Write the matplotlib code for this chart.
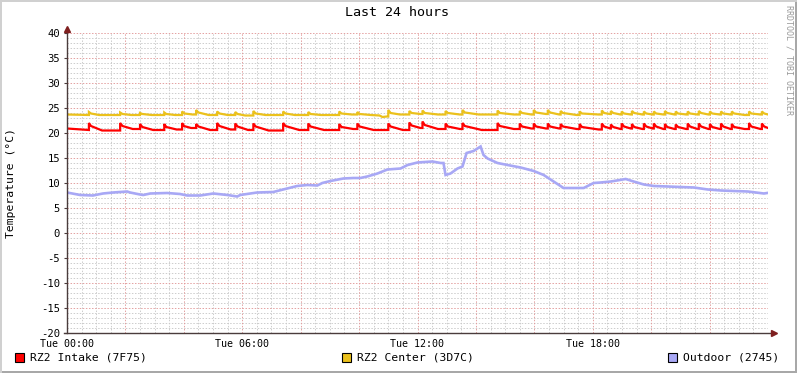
#!/usr/bin/env python3
"""Redraw the 'Last 24 hours' RRDtool temperature graph."""

import matplotlib
matplotlib.use("Agg")
import matplotlib.pyplot as plt  # type: ignore
from matplotlib.patches import Rectangle  # type: ignore

TITLE = "Last 24 hours"
Y_LABEL = "Temperature (°C)"
WATERMARK = "RRDTOOL / TOBI OETIKER"
X_TICKS = [0, 6, 12, 18]
X_TICK_LABELS = ["Tue 00:00", "Tue 06:00", "Tue 12:00", "Tue 18:00"]
Y_TICKS = list(range(-20, 41, 5))
NAMES = ["RZ2 Intake (7F75)", "RZ2 Center (3D7C)", "Outdoor (2745)"]
COLORS = ["#FF0000", "#EBC11C", "#A8A8F5"]

# (hour, °C)
intake_points = [
    (0.00, 20.9), (0.70, 20.6), (0.75, 20.6), (0.75, 22.0), (0.82, 21.4), (1.20, 20.5),
    (1.82, 20.5), (1.82, 22.0), (1.90, 21.4), (2.25, 20.8), (2.50, 20.8), (2.50, 21.8),
    (2.58, 21.2), (2.95, 20.6), (3.33, 20.6), (3.33, 21.8), (3.40, 21.2), (3.75, 20.7),
    (3.94, 20.7), (3.94, 22.0), (4.00, 21.4), (4.25, 21.0), (4.42, 21.0), (4.42, 21.8),
    (4.50, 21.3), (4.90, 20.6), (5.14, 20.6), (5.14, 22.0), (5.22, 21.4), (5.60, 20.7),
    (5.76, 20.7), (5.76, 21.9), (5.84, 21.3), (6.20, 20.6), (6.38, 20.6), (6.38, 21.9),
    (6.46, 21.3), (6.90, 20.5), (7.40, 20.5), (7.40, 22.0), (7.48, 21.4), (7.95, 20.6),
    (8.26, 20.6), (8.26, 21.9), (8.34, 21.3), (8.80, 20.6), (9.32, 20.6), (9.32, 21.8),
    (9.40, 21.2), (9.80, 20.8), (9.94, 20.8), (9.94, 21.9), (10.02, 21.3), (10.50, 20.6),
    (11.00, 20.6), (11.00, 21.9), (11.08, 21.3), (11.50, 20.6), (11.72, 20.6), (11.72, 22.1),
    (11.80, 21.5), (12.10, 21.0), (12.17, 21.0), (12.17, 22.3), (12.25, 21.6), (12.70, 20.8),
    (12.96, 20.8), (12.96, 21.9), (13.04, 21.3), (13.45, 20.8), (13.54, 20.8), (13.54, 22.0),
    (13.62, 21.4), (14.20, 20.6), (14.74, 20.6), (14.74, 22.0), (14.82, 21.4), (15.30, 20.8),
    (15.50, 20.8), (15.50, 21.9), (15.58, 21.3), (15.90, 20.9), (15.98, 20.9), (15.98, 21.9),
    (16.06, 21.3), (16.40, 20.9), (16.46, 20.9), (16.46, 21.9), (16.54, 21.3), (16.85, 20.9),
    (16.90, 20.9), (16.90, 21.8), (16.98, 21.3), (17.45, 20.8), (17.55, 20.8), (17.55, 21.8),
    (17.63, 21.2), (18.20, 20.7), (18.31, 20.7), (18.31, 21.9), (18.39, 21.3), (18.60, 20.9),
    (18.62, 20.9), (18.62, 21.7), (18.70, 21.2), (18.95, 20.8), (18.99, 20.8), (18.99, 21.9),
    (19.07, 21.3), (19.30, 20.9), (19.34, 20.9), (19.34, 21.8), (19.42, 21.2), (19.70, 20.8),
    (19.75, 20.8), (19.75, 21.9), (19.83, 21.3), (20.05, 20.9), (20.09, 20.9), (20.09, 21.9),
    (20.17, 21.3), (20.42, 20.8), (20.47, 20.8), (20.47, 21.8), (20.55, 21.2), (20.80, 20.8),
    (20.84, 20.8), (20.84, 21.7), (20.92, 21.2), (21.20, 20.8), (21.25, 20.8), (21.25, 21.9),
    (21.33, 21.3), (21.58, 20.8), (21.63, 20.8), (21.63, 21.9), (21.71, 21.3), (21.96, 20.8),
    (22.01, 20.8), (22.01, 21.8), (22.09, 21.2), (22.35, 20.8), (22.39, 20.8), (22.39, 21.9),
    (22.47, 21.3), (22.72, 20.8), (22.76, 20.8), (22.76, 21.8), (22.84, 21.2), (23.20, 20.8),
    (23.35, 20.8), (23.35, 22.0), (23.43, 21.3), (23.74, 20.8), (23.79, 20.8), (23.79, 21.9),
    (23.87, 21.3), (24.00, 21.0),
]

center_points = [
    (0.00, 23.7), (0.70, 23.6), (0.75, 23.6), (0.75, 24.2), (0.82, 23.9), (1.10, 23.6),
    (1.82, 23.6), (1.82, 24.1), (1.90, 23.8), (2.20, 23.6), (2.50, 23.6), (2.50, 24.0),
    (2.58, 23.8), (2.90, 23.6), (3.33, 23.6), (3.33, 24.1), (3.40, 23.8), (3.70, 23.6),
    (3.94, 23.6), (3.94, 24.3), (4.02, 23.9), (4.30, 23.7), (4.42, 23.7), (4.42, 24.6),
    (4.50, 24.1), (4.85, 23.6), (5.14, 23.6), (5.14, 24.3), (5.22, 23.9), (5.50, 23.6),
    (5.76, 23.6), (5.76, 24.2), (5.84, 23.8), (6.10, 23.5), (6.38, 23.5), (6.38, 24.4),
    (6.46, 23.9), (6.80, 23.6), (7.40, 23.6), (7.40, 24.3), (7.48, 23.9), (7.80, 23.6),
    (8.26, 23.6), (8.26, 24.2), (8.34, 23.8), (8.70, 23.6), (9.32, 23.6), (9.32, 24.3),
    (9.40, 23.9), (9.75, 23.7), (9.94, 23.7), (9.94, 24.2), (10.02, 23.8), (10.40, 23.6),
    (10.70, 23.5), (10.80, 23.2), (10.95, 23.3), (11.00, 23.3), (11.00, 24.6), (11.08, 24.0),
    (11.40, 23.7), (11.72, 23.7), (11.72, 24.4), (11.80, 24.0), (12.10, 23.8), (12.17, 23.8),
    (12.17, 24.5), (12.25, 24.0), (12.70, 23.7), (12.96, 23.7), (12.96, 24.4), (13.04, 24.0),
    (13.45, 23.7), (13.54, 23.7), (13.54, 24.6), (13.62, 24.1), (14.10, 23.7), (14.74, 23.7),
    (14.74, 24.5), (14.82, 24.0), (15.30, 23.7), (15.50, 23.7), (15.50, 24.4), (15.58, 24.0),
    (15.90, 23.7), (15.98, 23.7), (15.98, 24.6), (16.06, 24.1), (16.40, 23.8), (16.46, 23.8),
    (16.46, 24.6), (16.54, 24.1), (16.85, 23.7), (16.90, 23.7), (16.90, 24.4), (16.98, 24.0),
    (17.45, 23.6), (17.55, 23.6), (17.55, 24.3), (17.63, 23.9), (18.20, 23.7), (18.31, 23.7),
    (18.31, 24.5), (18.39, 24.0), (18.58, 23.8), (18.62, 23.8), (18.62, 24.4), (18.70, 24.0),
    (18.95, 23.7), (18.99, 23.7), (18.99, 24.3), (19.07, 23.9), (19.30, 23.7), (19.34, 23.7),
    (19.34, 24.4), (19.42, 24.0), (19.70, 23.7), (19.75, 23.7), (19.75, 24.3), (19.83, 23.9),
    (20.05, 23.7), (20.09, 23.7), (20.09, 24.3), (20.17, 23.9), (20.42, 23.7), (20.47, 23.7),
    (20.47, 24.4), (20.55, 24.0), (20.80, 23.7), (20.84, 23.7), (20.84, 24.3), (20.92, 23.9),
    (21.20, 23.7), (21.25, 23.7), (21.25, 24.3), (21.33, 23.9), (21.58, 23.7), (21.63, 23.7),
    (21.63, 24.4), (21.71, 24.0), (21.96, 23.7), (22.01, 23.7), (22.01, 24.3), (22.09, 23.9),
    (22.35, 23.7), (22.39, 23.7), (22.39, 24.3), (22.47, 23.9), (22.72, 23.7), (22.76, 23.7),
    (22.76, 24.3), (22.84, 23.9), (23.20, 23.6), (23.35, 23.6), (23.35, 24.3), (23.43, 23.9),
    (23.74, 23.7), (23.79, 23.7), (23.79, 24.3), (23.87, 23.9), (24.00, 23.7),
]

outdoor_points = [
    (0.00, 8.1), (0.45, 7.6), (0.89, 7.5), (1.23, 7.9), (1.58, 8.1), (2.06, 8.3),
    (2.16, 8.1), (2.50, 7.7), (2.61, 7.6), (2.85, 7.9), (3.43, 8.0), (3.87, 7.8),
    (4.11, 7.5), (4.56, 7.5), (5.01, 7.9), (5.49, 7.6), (5.83, 7.3), (5.93, 7.6),
    (6.51, 8.1), (7.06, 8.2), (7.40, 8.7), (7.88, 9.4), (8.23, 9.6), (8.57, 9.5),
    (8.74, 10.0), (9.02, 10.4), (9.46, 10.9), (9.80, 11.0), (10.04, 11.0), (10.28, 11.3),
    (10.63, 11.9), (10.97, 12.7), (11.42, 12.9), (11.66, 13.6), (12.00, 14.1), (12.51, 14.3),
    (12.79, 14.0), (12.89, 14.0), (12.96, 11.6), (13.13, 11.9), (13.37, 12.9), (13.54, 13.3),
    (13.68, 16.0), (13.92, 16.4), (14.16, 17.3), (14.26, 15.6), (14.40, 14.9), (14.74, 14.0),
    (15.08, 13.6), (15.53, 13.1), (15.98, 12.4), (16.32, 11.6), (16.66, 10.3), (17.00, 9.0),
    (17.48, 9.0), (17.69, 9.0), (18.03, 10.0), (18.27, 10.1), (18.62, 10.3), (19.13, 10.8),
    (19.40, 10.3), (19.75, 9.7), (20.09, 9.4), (20.57, 9.3), (21.01, 9.2), (21.46, 9.1),
    (21.94, 8.7), (22.39, 8.5), (22.83, 8.4), (23.31, 8.3), (23.86, 7.9), (23.97, 8.0),
]

W, H = 797, 373
AXIS_COLOR = "#4A3C3C"
ARROW_COLOR = "#7F1F1F"


def px(x, y):
    """Pixel position (top-left origin) to figure fraction."""
    return x / W, 1 - y / H


def main():
    plt.rcParams["font.family"] = ["DejaVu Sans Mono", "DejaVu Sans"]
    plt.rcParams["axes.unicode_minus"] = False
    fig = plt.figure(figsize=(W / 100, H / 100), dpi=100, facecolor="white")
    ax = fig.add_axes([67 / W, 40 / H, 701 / W, 300 / H])
    ax.set_xlim(0, 24)
    ax.set_ylim(-20, 40)
    for side in ax.spines.values():
        side.set_visible(False)

    # grid: minor every 30 min / 1 degree, major every 2 h / 5 degrees
    grid = dict(lw=0.65, ls=(0, (1.6, 1.8)), zorder=1)
    for i in range(1, 49):
        if i % 4:
            ax.axvline(i * 0.5, color="#C9C9C9", **grid)
    for v in range(-19, 41):
        if v % 5:
            ax.axhline(v, color="#C9C9C9", **grid)
    for h in range(2, 25, 2):
        ax.axvline(h, color="#E29A9A", **grid)
    for v in range(-15, 41, 5):
        ax.axhline(v, color="#E29A9A", **grid)

    for pts, color, lw in zip(
        [intake_points, center_points, outdoor_points], COLORS, [1.6, 1.6, 1.9]
    ):
        hours, temps = zip(*pts)
        ax.plot(hours, temps, color=color, lw=lw, solid_joinstyle="miter", zorder=3)

    # axes with arrows
    ax.plot([-0.004, 1.005], [0, 0], transform=ax.transAxes, color=AXIS_COLOR,
            lw=1.0, clip_on=False, zorder=4)
    ax.plot([0, 0], [0, 1.01], transform=ax.transAxes, color=AXIS_COLOR,
            lw=1.0, clip_on=False, zorder=4)
    ax.plot([1.009], [0], transform=ax.transAxes, marker=">", ms=4.5,
            color=ARROW_COLOR, clip_on=False, zorder=5)
    ax.plot([0], [1.014], transform=ax.transAxes, marker="^", ms=4.5,
            color=ARROW_COLOR, clip_on=False, zorder=5)

    ax.set_xticks(X_TICKS)
    ax.set_xticklabels(X_TICK_LABELS)
    ax.set_yticks(Y_TICKS)
    ax.tick_params(axis="x", length=0, pad=4, labelsize=7.2)
    ax.tick_params(axis="y", length=2, width=0.8, color=AXIS_COLOR, pad=3,
                   labelsize=7.6)

    fig.text(*px(397, 13), TITLE, ha="center", va="center", fontsize=9.6)
    fig.text(*px(11, 183), Y_LABEL, ha="center", va="center", rotation=90,
             fontsize=8.2)
    fig.text(*px(789, 5), WATERMARK, ha="center", va="top", rotation=270,
             fontsize=6.0, color="#9A9A9A")

    # legend
    for (sx, tx), name, color in zip([(15, 30), (342, 357), (668, 683)], NAMES, COLORS):
        fig.patches.append(Rectangle(px(sx, 362), 9 / W, 9 / H, transform=fig.transFigure,
                                     facecolor=color, edgecolor="black", lw=0.8))
        fig.text(*px(tx, 358), name, ha="left", va="center", fontsize=8.2)

    # frame around the image
    fig.patches.append(Rectangle((0, 0), 1, 2 / H, transform=fig.transFigure,
                                 facecolor="#A8A8A8", lw=0))
    fig.patches.append(Rectangle((1 - 2 / W, 0), 2 / W, 1, transform=fig.transFigure,
                                 facecolor="#A8A8A8", lw=0))
    fig.patches.append(Rectangle((0, 1 - 2 / H), 1, 2 / H, transform=fig.transFigure,
                                 facecolor="#D0D0D0", lw=0))
    fig.patches.append(Rectangle((0, 0), 2 / W, 1, transform=fig.transFigure,
                                 facecolor="#D0D0D0", lw=0))

    fig.savefig("out.png", dpi=100, facecolor="white")


if __name__ == "__main__":
    main()
